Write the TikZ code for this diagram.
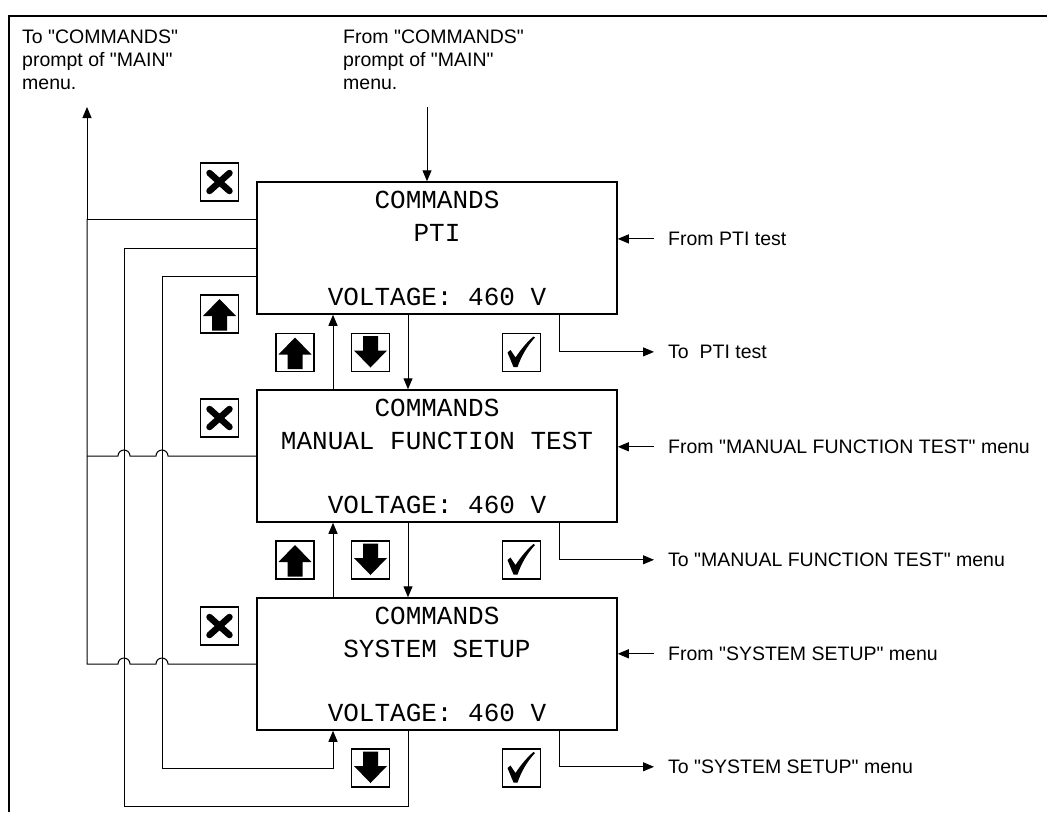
\documentclass[tikz,border=0pt]{standalone}
\usepackage{fontspec}
\setmainfont{Liberation Sans}[Ligatures=TeXOff]
\newfontfamily\lcdfont{Liberation Mono}
\usetikzlibrary{arrows.meta}
\tikzset{
  box/.style={draw, line width=1.5pt, minimum width=360pt, minimum height=132pt, inner sep=0pt,
    align=center, font=\lcdfont\fontsize{26}{33}\selectfont},
  lbl/.style={inner sep=0pt, align=left, font=\fontsize{19.5}{23}\selectfont},
  wire/.style={line width=1pt},
  arr/.style={wire, -{Triangle[length=11pt,width=9pt]}},
  frame/.style={line width=2pt},
  icon/.style={draw, line width=1.5pt, minimum size=38pt, inner sep=0pt},
  xicon/.style={icon, path picture={
    \draw[line width=6.5pt, line cap=round, shift={(path picture bounding box.center)}]
      (-10,9) -- (10,-9) (-10,-9) -- (10,9);}},
  upicon/.style={icon, path picture={
    \fill[line join=round, shift={(path picture bounding box.center)}]
      (0,15) -- (16.5,-2) -- (7.5,-2) -- (7.5,-16.5) -- (-7.5,-16.5) -- (-7.5,-2) -- (-16.5,-2) -- cycle;}},
  downicon/.style={icon, path picture={
    \fill[line join=round, shift={(path picture bounding box.center)}]
      (0,-15) -- (16.5,2) -- (7.5,2) -- (7.5,16.5) -- (-7.5,16.5) -- (-7.5,2) -- (-16.5,2) -- cycle;}},
  chkicon/.style={icon, path picture={
    \fill[shift={(path picture bounding box.center)}]
      (-14,0) -- (-11,2.5) -- (-6,-5) .. controls (0,4) and (6,11) .. (12,16) -- (13.5,15)
      .. controls (6,7) and (0,-3) .. (-4,-14.5) -- (-8,-14.5) -- cycle;}},
}
\begin{document}
\begin{tikzpicture}[x=1pt,y=1pt]
\useasboundingbox (0,0) rectangle (1047,-812);
\fill[white] (0,0) rectangle (1047,-812);
\draw[frame] (9,-812) -- (9,-16) -- (1047,-16);

% boxes
\node[box] (b1) at (437,-248) {COMMANDS\\PTI\\[31pt]VOLTAGE: 460 V};
\node[box] (b2) at (437,-456) {COMMANDS\\MANUAL FUNCTION TEST\\[31pt]VOLTAGE: 460 V};
\node[box] (b3) at (437,-664) {COMMANDS\\SYSTEM SETUP\\[31pt]VOLTAGE: 460 V};

% icons
\node[xicon] (x1) at (219.5,-182) {};
\node[upicon] (u1) at (219.5,-314) {};
\node[upicon] (u12) at (295,-352.5) {};
\node[downicon] (d12) at (370.5,-352.5) {};
\node[chkicon] (c1) at (521.5,-352.5) {};
\node[xicon] (x2) at (219.5,-418) {};
\node[upicon] (u23) at (295,-560) {};
\node[downicon] (d23) at (370.5,-560) {};
\node[chkicon] (c2) at (521.5,-560) {};
\node[xicon] (x3) at (219.5,-626) {};
\node[downicon] (d3) at (370.5,-768) {};
\node[chkicon] (c3) at (521.5,-768) {};

% labels
\node[lbl, anchor=north west] (tomain) at (22,-30) {To "COMMANDS"\\prompt of "MAIN"\\menu.};
\node[lbl, anchor=north west] (frommain) at (343,-30) {From "COMMANDS"\\prompt of "MAIN"\\menu.};
\node[lbl, anchor=base west] (f1) at (668,-245.5) {From PTI test};
\node[lbl, anchor=base west] (t1) at (668,-358.5) {To\ \ PTI test};
\node[lbl, anchor=base west] (f2) at (668,-453.5) {From "MANUAL FUNCTION TEST" menu};
\node[lbl, anchor=base west] (t2) at (668,-566.5) {To "MANUAL FUNCTION TEST" menu};
\node[lbl, anchor=base west] (f3) at (668,-660.5) {From "SYSTEM SETUP" menu};
\node[lbl, anchor=base west] (t3) at (668,-773.5) {To "SYSTEM SETUP" menu};

% bus coordinates
\coordinate (busA) at (87,-107);
\coordinate (mainin) at (427,-107);
\coordinate (busB) at (124,-806);
\coordinate (busC) at (162,-768);

% from/to main
\draw[arr] (mainin) -- (mainin |- b1.north);
\draw[arr] ([yshift=29pt]b1.west) -- ([yshift=29pt]b1.west -| busA) -- (busA);
\draw[wire] (b2.west) -- ([xshift=6pt]b2.west -| busC) arc[start angle=0,end angle=180,radius=6pt]
  -- ([xshift=6pt]b2.west -| busB) arc[start angle=0,end angle=180,radius=6pt] -- (b2.west -| busA);
\draw[wire] (b3.west) -- ([xshift=6pt]b3.west -| busC) arc[start angle=0,end angle=180,radius=6pt]
  -- ([xshift=6pt]b3.west -| busB) arc[start angle=0,end angle=180,radius=6pt] -- (b3.west -| busA)
  -- ([yshift=29pt]b1.west -| busA);

% wrap-around loops
\draw[wire] ([xshift=-29pt]b3.south) -- ([xshift=-29pt]b3.south |- busB) -- (busB) -- (busB |- b1.west) -- (b1.west);
\draw[arr] ([yshift=-28pt]b1.west) -- ([yshift=-28pt]b1.west -| busC) -- (busC) -| ([xshift=-104pt]b3.south);

% up / down between boxes
\draw[arr] ([xshift=-104pt]b2.north) -- ([xshift=-104pt]b1.south);
\draw[arr] ([xshift=-104pt]b3.north) -- ([xshift=-104pt]b2.south);
\draw[arr] ([xshift=-29pt]b1.south) -- ([xshift=-29pt]b2.north);
\draw[arr] ([xshift=-29pt]b2.south) -- ([xshift=-29pt]b3.north);

% right side
\draw[arr] ([xshift=-14pt]f1.west) -- (f1.west -| b1.east);
\draw[arr] ([xshift=-14pt]f2.west) -- (f2.west -| b2.east);
\draw[arr] ([xshift=-14pt]f3.west) -- (f3.west -| b3.east);
\draw[arr] ([xshift=122pt]b1.south) |- ([xshift=-14pt]t1.west);
\draw[arr] ([xshift=122pt]b2.south) |- ([xshift=-14pt]t2.west);
\draw[arr] ([xshift=122pt]b3.south) |- ([xshift=-14pt]t3.west);
\end{tikzpicture}
\end{document}
